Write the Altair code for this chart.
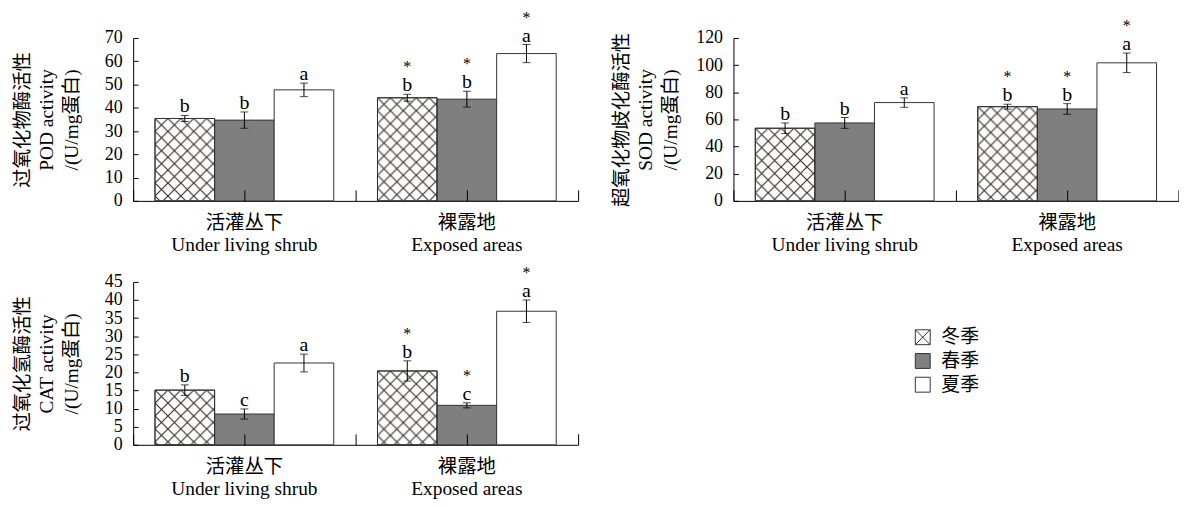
import altair as alt
import pandas as pd
import urllib.parse

# ---------------- data ----------------
groups_cn = ["活灌丛下", "裸露地"]
groups_en = ["Under living shrub", "Exposed areas"]
seasons = ["冬季", "春季", "夏季"]

pod_values = [35.4, 34.7, 47.7, 44.3, 43.7, 63.3]
pod_errors = [1.3, 3.5, 2.9, 1.5, 3.4, 3.9]
pod_letters = ["b", "b", "a", "b", "b", "a"]
pod_stars = ["", "", "", "*", "*", "*"]
pod_ticks = [0, 10, 20, 30, 40, 50, 60, 70]
pod_title = ["过氧化物酶活性", "POD activity", "/(U/mg蛋白)"]

sod_values = [53.5, 57.4, 72.4, 69.4, 67.7, 101.7]
sod_errors = [3.9, 4.0, 3.5, 1.8, 3.9, 7.2]
sod_letters = ["b", "b", "a", "b", "b", "a"]
sod_stars = ["", "", "", "*", "*", "*"]
sod_ticks = [0, 20, 40, 60, 80, 100, 120]
sod_title = ["超氧化物歧化酶活性", "SOD activity", "/(U/mg蛋白)"]

cat_values = [15.1, 8.5, 22.6, 20.4, 10.9, 36.9]
cat_errors = [1.45, 1.4, 2.45, 2.8, 0.7, 3.1]
cat_letters = ["b", "c", "a", "b", "c", "a"]
cat_stars = ["", "", "", "*", "*", "*"]
cat_ticks = [0, 5, 10, 15, 20, 25, 30, 35, 40, 45]
cat_title = ["过氧化氢酶活性", "CAT activity", "/(U/mg蛋白)"]

season_fills = ["white", "#7f7f7f", "white"]

# ---------------- style ----------------
FONT = "Liberation Serif, Noto Sans CJK SC"
W, H = 448, 164
LINE = "#333333"
HATCH_SVG = (
    "<svg xmlns='http://www.w3.org/2000/svg' width='100%' height='100%'>"
    "<defs><pattern id='p' width='13' height='13' patternUnits='userSpaceOnUse'>"
    "<path d='M0,0L13,13M13,0L0,13' stroke='#3d3030' stroke-width='1.2' fill='none'/>"
    "</pattern></defs><rect width='100%' height='100%' fill='url(#p)'/></svg>"
)
HATCH_URL = "data:image/svg+xml;charset=utf-8," + urllib.parse.quote(HATCH_SVG)
X_PATH = "M-1,-1H1V1H-1ZM-1,-1L1,1M1,-1L-1,1"

label_map = " : ".join(
    f"datum.value == '{cn}' ? ['{cn}', '{en}']" for cn, en in zip(groups_cn, groups_en)
) + " : ''"


def panel(values, errors, letters, stars, ticks, title, title_x):
    df = pd.DataFrame({
        "group": [g for g in groups_cn for _ in seasons],
        "season": seasons * len(groups_cn),
        "value": values,
        "err": errors,
        "letter": letters,
        "star": stars,
    })
    df["lo"] = df["value"] - df["err"]
    df["hi"] = df["value"] + df["err"]
    base = alt.Chart(df)

    xscale = alt.Scale(domain=groups_cn, paddingInner=0, paddingOuter=0)
    yscale = alt.Scale(domain=[0, ticks[-1]], nice=False, zero=True)

    def X(axis):
        return alt.X("group:N", sort=groups_cn, scale=xscale, axis=axis, title=None)

    xoff = alt.XOffset("season:N", sort=seasons,
                       scale=alt.Scale(domain=seasons, paddingInner=0, paddingOuter=0.367))

    bottom_x = alt.Axis(orient="bottom", domain=True, domainColor="black", domainWidth=1,
                        ticks=False, grid=False, labelAngle=0, labelExpr=label_map,
                        labelFont=FONT, labelFontSize=19.5, labelColor="black",
                        labelPadding=13, labelBaseline="top", labelLineHeight=22,
                        title=None)
    top_x_extent = alt.Axis(orient="top", offset=-H, domain=False, labels=False,
                            ticks=True, tickBand="extent", tickSize=11, tickColor="black",
                            tickWidth=1, grid=False, title=None, zindex=1)
    top_x_center = alt.Axis(orient="top", offset=-H, domain=False, labels=False,
                            ticks=True, tickSize=11, tickColor="black", tickWidth=1,
                            grid=False, title=None, zindex=1)
    left_y = alt.Axis(orient="left", values=ticks, domain=True, domainColor="black",
                      domainWidth=1, ticks=False, grid=False,
                      labelFont=FONT, labelFontSize=18, labelColor="black", labelPadding=11,
                      title=title, titleFont=FONT, titleFontSize=19.5, titleFontWeight="normal",
                      titleColor="black", titleAngle=270, titleAlign="center",
                      titleBaseline="top", titleX=title_x, titleY=H / 2, titleLineHeight=25)
    right_y = alt.Axis(orient="right", offset=-W, values=ticks, domain=False, labels=False,
                       ticks=True, tickSize=5, tickColor="black", tickWidth=1, grid=False,
                       title=None)

    fill = alt.Fill("season:N", scale=alt.Scale(domain=seasons, range=season_fills), legend=None)

    bars = base.mark_bar(stroke=LINE, strokeWidth=1).encode(
        x=X(bottom_x), xOffset=xoff,
        y=alt.Y("value:Q", scale=yscale, axis=left_y, title=None),
        fill=fill,
    )
    hatch = base.transform_filter(alt.datum.season == seasons[0]).mark_image(aspect=False).encode(
        x=X(top_x_extent), xOffset=xoff,
        y=alt.Y("value:Q", scale=yscale, axis=right_y),
        y2=alt.datum(0),
        url=alt.value(HATCH_URL),
    )
    outline = base.transform_filter(alt.datum.season == seasons[0]).mark_bar(
        fillOpacity=0, stroke=LINE, strokeWidth=1).encode(
        x=X(None), xOffset=xoff,
        y=alt.Y("value:Q", scale=yscale, axis=None),
    )
    err_rule = base.mark_rule(color="black", strokeWidth=1).encode(
        x=X(top_x_center), xOffset=xoff,
        y=alt.Y("lo:Q", scale=yscale, axis=None),
        y2="hi:Q",
    )
    cap_lo = base.mark_tick(color="black", thickness=1, size=8, orient="horizontal").encode(
        x=X(None), xOffset=xoff, y=alt.Y("lo:Q", scale=yscale, axis=None))
    cap_hi = base.mark_tick(color="black", thickness=1, size=8, orient="horizontal").encode(
        x=X(None), xOffset=xoff, y=alt.Y("hi:Q", scale=yscale, axis=None))
    letter_t = base.mark_text(font=FONT, fontSize=20, baseline="alphabetic", dy=-3,
                              color="black").encode(
        x=X(None), xOffset=xoff, y=alt.Y("hi:Q", scale=yscale, axis=None), text="letter:N")
    star_t = base.mark_text(font=FONT, fontSize=16, baseline="alphabetic", dy=-22,
                            color="black").encode(
        x=X(None), xOffset=xoff, y=alt.Y("hi:Q", scale=yscale, axis=None), text="star:N")

    return alt.layer(bars, hatch, outline, err_rule, cap_lo, cap_hi, letter_t, star_t).resolve_axis(
        x="independent", y="independent").properties(width=W, height=H)


pod = panel(pod_values, pod_errors, pod_letters, pod_stars, pod_ticks, pod_title, -120.8)
sod = panel(sod_values, sod_errors, sod_letters, sod_stars, sod_ticks, sod_title, -122)
cat = panel(cat_values, cat_errors, cat_letters, cat_stars, cat_ticks, cat_title, -120.8)

# ---------------- legend (manual) ----------------
legend_df = pd.DataFrame({"season": seasons})
leg_y = alt.Y("season:N", sort=seasons,
              scale=alt.Scale(domain=seasons, type="point", range=[55.7, 103.5], padding=0),
              axis=None)
swatch = alt.Chart(legend_df).mark_point(filled=True, size=225, stroke=LINE, strokeWidth=1,
                                         opacity=1).encode(
    x=alt.value(190.6), y=leg_y,
    shape=alt.Shape("season:N", scale=alt.Scale(domain=seasons, range=[X_PATH, "square", "square"]),
                    legend=None),
    fill=alt.Fill("season:N", scale=alt.Scale(domain=seasons, range=season_fills), legend=None),
)
leg_text = alt.Chart(legend_df).mark_text(align="left", baseline="middle", font=FONT,
                                          fontSize=19, color="black").encode(
    x=alt.value(209.3), y=leg_y, text="season:N")
legend_chart = alt.layer(swatch, leg_text).properties(width=W, height=H)

chart = alt.concat(pod, sod, cat, legend_chart, columns=2,
                   spacing={"row": 81.6, "column": 156.4}, bounds="flush").properties(
    padding={"left": 4, "top": -0.5, "right": 0, "bottom": 0}
).configure_view(strokeWidth=0)

chart.save("out.html", embed_options={"renderer": "svg", "actions": False})
